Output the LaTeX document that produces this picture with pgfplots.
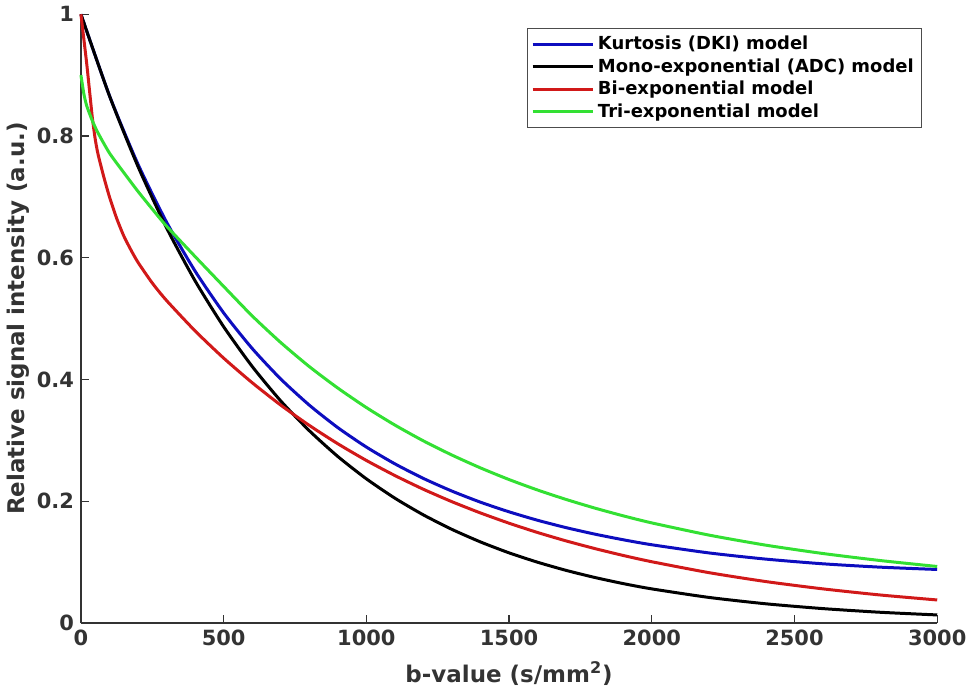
\documentclass[border=0pt]{standalone}
\usepackage{fontspec}
\setmainfont{DejaVu Sans}
\usepackage{pgfplots}
\pgfplotsset{compat=1.18}

\definecolor{dkiblue}{rgb}{0.05,0.05,0.75}
\definecolor{biered}{rgb}{0.82,0.1,0.1}
\definecolor{trigreen}{rgb}{0.2,0.88,0.2}
\definecolor{axgray}{rgb}{0.2,0.2,0.2}

\begin{document}
\begin{tikzpicture}
\begin{axis}[
    scale only axis,
    width=429pt,
    height=305pt,
    xmin=0, xmax=3000,
    ymin=0, ymax=1,
    axis lines*=left,
    axis line style={axgray, line width=0.6pt},
    tick style={axgray, line width=0.6pt},
    major tick length=4pt,
    tick align=inside,
    xtick={0,500,1000,1500,2000,2500,3000},
    ytick={0,0.2,0.4,0.6,0.8,1},
    /pgf/number format/assume math mode=true,
    /pgf/number format/1000 sep={},
    ticklabel style={font=\fontsize{10.5}{12}\selectfont\bfseries, text=axgray},
    xlabel={b-value (s/mm\textsuperscript{2})},
    ylabel={Relative signal intensity (a.u.)},
    label style={font=\fontsize{11.5}{13}\selectfont\bfseries, text=axgray},
    xlabel style={yshift=-1pt},
    ylabel style={yshift=-3pt},
    legend style={at={(0.9825,0.977)}, anchor=north east,
        draw=black!70, line width=0.5pt,
        font=\fontsize{9}{10.5}\selectfont\bfseries,
        inner xsep=2pt, inner ysep=1.5pt, row sep=-1pt},
    legend cell align=left,
    legend image code/.code={\draw[#1, line width=1.5pt] (0pt,0pt) -- (30pt,0pt);},
    every axis plot/.append style={line width=1.5pt, smooth, tension=0.4},
    clip=false,
]
% Kurtosis (DKI)
\addplot[dkiblue] coordinates {
(0,1.0) (100,0.8663) (200,0.7537) (300,0.6586) (400,0.5781) (500,0.5095)
(600,0.4510) (700,0.4009) (800,0.3580) (900,0.3210) (1000,0.2891)
(1100,0.2615) (1200,0.2375) (1300,0.2167) (1400,0.1985) (1500,0.1827)
(1600,0.1688) (1700,0.1567) (1800,0.1461) (1900,0.1368) (2000,0.1286)
(2200,0.1152) (2400,0.1050) (2600,0.0973) (2800,0.0918) (3000,0.0880)
};
\addlegendentry{Kurtosis (DKI) model}
% Mono-exponential (ADC)
\addplot[black] coordinates {
(0,1.0) (100,0.8659) (200,0.7498) (300,0.6492) (400,0.5621) (500,0.4868)
(600,0.4215) (700,0.3649) (800,0.3160) (900,0.2736) (1000,0.2369)
(1100,0.2051) (1200,0.1776) (1300,0.1538) (1400,0.1332) (1500,0.1153)
(1600,0.0999) (1700,0.0865) (1800,0.0749) (1900,0.0648) (2000,0.0561)
(2200,0.0421) (2400,0.0316) (2600,0.0237) (2800,0.0177) (3000,0.0133)
};
\addlegendentry{Mono-exponential (ADC) model}
% Bi-exponential
\addplot[biered] coordinates {
(0,1.0) (10,0.96) (20,0.92) (30,0.875) (40,0.83) (50,0.795) (60,0.77)
(80,0.733) (100,0.700) (125,0.665) (150,0.636) (175,0.613) (200,0.5925)
(250,0.5585) (300,0.5298) (400,0.4799) (500,0.4352) (600,0.3948)
(700,0.3580) (800,0.3247) (900,0.2945) (1000,0.2671) (1100,0.2423)
(1200,0.2197) (1300,0.1993) (1400,0.1808) (1500,0.1640) (1600,0.1487)
(1700,0.1349) (1800,0.1224) (1900,0.1110) (2000,0.1007) (2200,0.0828)
(2400,0.0681) (2600,0.0561) (2800,0.0461) (3000,0.0379)
};
\addlegendentry{Bi-exponential model}
% Tri-exponential
\addplot[trigreen] coordinates {
(0,0.90) (10,0.87) (20,0.85) (40,0.825) (60,0.805) (100,0.772) (150,0.740)
(200,0.709) (250,0.680) (300,0.652) (400,0.602) (500,0.553) (600,0.5045)
(700,0.4608) (800,0.4213) (900,0.3860) (1000,0.3540) (1100,0.3252)
(1200,0.2992) (1300,0.2759) (1400,0.2548) (1500,0.2357) (1600,0.2185)
(1700,0.2030) (1800,0.1889) (1900,0.1761) (2000,0.1645) (2200,0.1445)
(2400,0.1279) (2600,0.1142) (2800,0.1027) (3000,0.0929)
};
\addlegendentry{Tri-exponential model}
\end{axis}
\end{tikzpicture}
\end{document}
